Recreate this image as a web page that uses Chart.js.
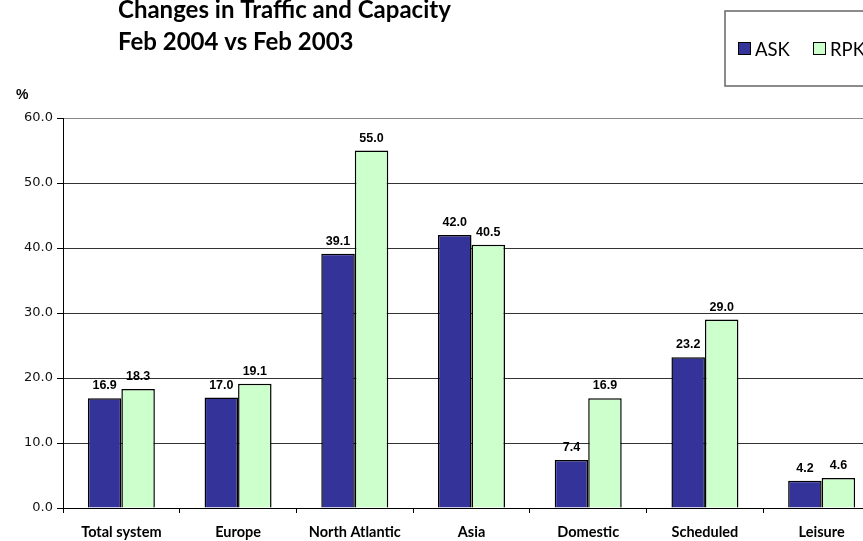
<!DOCTYPE html>
<html>
<head>
<meta charset="utf-8">
<title>Changes in Traffic and Capacity</title>
<script src="https://cdn.jsdelivr.net/npm/chart.js@4.4.1/dist/chart.umd.min.js"></script>
<style>
    html, body { margin: 0; padding: 0; background: #fff; overflow: hidden; }
    #wrap { position: relative; width: 900px; height: 541px; }
</style>
</head>
<body>
<div id="wrap"><canvas id="trafficChart" width="900" height="541"></canvas></div>
<script>
// Données du graphique
const categories = ['Total system', 'Europe', 'North Atlantic', 'Asia', 'Domestic', 'Scheduled', 'Leisure'];
const askValues = [16.9, 17.0, 39.1, 42.0, 7.4, 23.2, 4.2];
const rpkValues = [18.3, 19.1, 55.0, 40.5, 16.9, 29.0, 4.6];
const seriesNames = ['ASK', 'RPK'];
const titleLines = ['Changes in Traffic and Capacity', 'Feb 2004 vs Feb 2003'];
const unitLabel = '%';

const humanist = 'Lato, "Open Sans", sans-serif';

/**
 * Titre, légende encadrée et unité
 */
const decorPlugin = {
    id: 'decor',
    afterDraw(chart) {
        const ctx = chart.ctx;
        ctx.save();
        // Titre
        ctx.fillStyle = '#000';
        ctx.textAlign = 'left';
        ctx.textBaseline = 'alphabetic';
        ctx.font = 'bold 24px ' + humanist;
        ctx.fillText(titleLines[0], 118, 18);
        ctx.fillText(titleLines[1], 118, 50);

        // Unité
        ctx.font = 'bold 14px "Liberation Sans", Arial, sans-serif';
        ctx.textBaseline = 'middle';
        ctx.fillText(unitLabel, 16, 95);

        // Légende
        ctx.strokeStyle = '#666';
        ctx.lineWidth = 1.5;
        ctx.fillStyle = '#fff';
        ctx.fillRect(725, 11, 180, 75);
        ctx.strokeRect(725, 11, 180, 75);
        const itemX = [738, 813];
        chart.data.datasets.forEach((ds, i) => {
            ctx.fillStyle = ds.backgroundColor;
            ctx.fillRect(itemX[i], 42, 13, 13);
            ctx.strokeStyle = '#000';
            ctx.lineWidth = 1;
            ctx.strokeRect(itemX[i] + 0.5, 42.5, 12, 12);
            ctx.fillStyle = '#000';
            ctx.font = '18.5px ' + humanist;
            ctx.textBaseline = 'alphabetic';
            ctx.fillText(ds.label, itemX[i] + 17, 56);
        });
        ctx.restore();
    }
};

/**
 * Valeurs affichées au-dessus des barres
 */
const valueLabelsPlugin = {
    id: 'valueLabels',
    afterDatasetsDraw(chart) {
        const ctx = chart.ctx;
        ctx.save();
        ctx.font = 'bold 12.5px "Liberation Sans", Arial, sans-serif';
        ctx.fillStyle = '#000';
        ctx.textAlign = 'center';
        ctx.textBaseline = 'alphabetic';
        chart.data.datasets.forEach((ds, i) => {
            chart.getDatasetMeta(i).data.forEach((bar, j) => {
                ctx.fillText(ds.data[j].toFixed(1), bar.x, bar.y - 9);
            });
        });
        ctx.restore();
    }
};

new Chart(document.getElementById('trafficChart'), {
    type: 'bar',
    data: {
        labels: categories,
        datasets: [
            {
                label: seriesNames[0],
                data: askValues,
                backgroundColor: '#333399',
                borderColor: '#000',
                borderWidth: 1.5,
                categoryPercentage: 0.574,
                barPercentage: 1.0
            },
            {
                label: seriesNames[1],
                data: rpkValues,
                backgroundColor: '#CCFFCC',
                borderColor: '#000',
                borderWidth: 1.5,
                categoryPercentage: 0.574,
                barPercentage: 1.0
            }
        ]
    },
    options: {
        responsive: false,
        animation: false,
        layout: {
            padding: { top: 118, right: 20, left: 0, bottom: 0 }
        },
        plugins: {
            legend: { display: false },
            title: { display: false },
            tooltip: { enabled: false }
        },
        scales: {
            x: {
                afterFit(scale) { scale.height = 33; },
                border: { color: '#000', width: 1 },
                grid: {
                    offset: true,
                    drawOnChartArea: false,
                    drawTicks: true,
                    tickLength: 5,
                    color: '#000'
                },
                ticks: {
                    color: '#000',
                    padding: 11,
                    maxRotation: 0,
                    autoSkip: false,
                    font: { family: humanist, size: 14.5, weight: 'bold' }
                }
            },
            y: {
                min: 0,
                max: 60,
                afterFit(scale) { scale.width = 63; },
                border: { color: '#000', width: 1 },
                grid: {
                    color: (c) => (c.tick && c.tick.value === 60 ? '#888' : '#333'),
                    tickLength: 6,
                    tickColor: '#000'
                },
                ticks: {
                    stepSize: 10,
                    color: '#111',
                    padding: 4,
                    font: { family: '"DejaVu Sans", Verdana, sans-serif', size: 13 },
                    callback: (value) => value.toFixed(1)
                }
            }
        }
    },
    plugins: [valueLabelsPlugin, decorPlugin]
});
</script>
</body>
</html>
